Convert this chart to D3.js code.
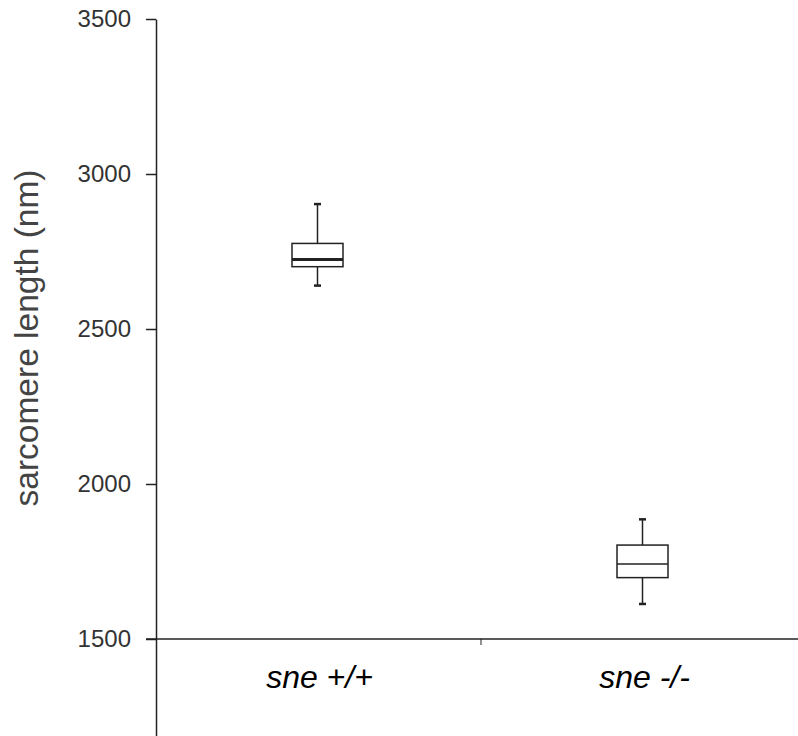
<!DOCTYPE html>
<html><head><meta charset="utf-8">
<script src="https://cdn.jsdelivr.net/npm/d3@7"></script>
<style>body{margin:0;background:#fff}svg{display:block}</style>
</head><body>
<svg id="c" width="798" height="736"></svg>
<script>
const categories = ["sne +/+", "sne -/-"];
const whiskerLow = [2640, 1613];
const q1 = [2701, 1698];
const median = [2724, 1742];
const q3 = [2776, 1803];
const whiskerHigh = [2903, 1886];
const yTicks = [1500, 2000, 2500, 3000, 3500];

const svg = d3.select("#c");
const y = d3.scaleLinear().domain([1000, 3500]).range([794, 19]);
const x = d3.scaleBand().domain(categories).range([156, 806]);
const ink = "#222";
const font = "Liberation Sans, Arial, sans-serif";

// y axis
const yAxis = d3.axisLeft(y).tickValues(yTicks).tickSize(10).tickSizeOuter(0).tickPadding(15).tickFormat(d3.format("d"));
const gy = svg.append("g").attr("transform", "translate(156,0)").call(yAxis);
gy.select(".domain").attr("stroke", ink).attr("stroke-width", 1.5);
gy.selectAll(".tick line").attr("stroke", ink).attr("stroke-width", 1.5);
gy.selectAll(".tick text").attr("font-family", font).attr("font-size", 24).attr("fill", "#333");

// x axis line at 1500
const y0 = y(1500);
svg.append("line").attr("x1", 146).attr("x2", 798).attr("y1", y0).attr("y2", y0).attr("stroke", ink).attr("stroke-width", 1.5);
// category divider tick
svg.append("line").attr("x1", x(categories[1])).attr("x2", x(categories[1])).attr("y1", y0).attr("y2", y0 + 6).attr("stroke", ink).attr("stroke-width", 1);

// category labels
svg.selectAll(".cat").data(categories).enter().append("text")
  .attr("x", d => x(d) + x.bandwidth() / 2 + 1).attr("y", 688)
  .attr("text-anchor", "middle").attr("font-family", font)
  .attr("font-size", 32).attr("font-style", "italic").attr("fill", "#000").text(d => d);

// y label
svg.append("text").attr("transform", "translate(38,338) rotate(-90)")
  .attr("text-anchor", "middle").attr("font-family", font)
  .attr("font-size", 33.5).attr("fill", "#444").text("sarcomere length (nm)");

// boxes
const bw = 51;
const medW = [3, 1.5];
categories.forEach((c, i) => {
  const cx = x(c) + x.bandwidth() / 2 - 1;
  const g = svg.append("g");
  g.append("line").attr("x1", cx).attr("x2", cx).attr("y1", y(whiskerHigh[i])).attr("y2", y(q3[i])).attr("stroke", ink).attr("stroke-width", 1.5);
  g.append("line").attr("x1", cx).attr("x2", cx).attr("y1", y(q1[i])).attr("y2", y(whiskerLow[i])).attr("stroke", ink).attr("stroke-width", 1.5);
  g.append("line").attr("x1", cx - 3.5).attr("x2", cx + 3.5).attr("y1", y(whiskerHigh[i])).attr("y2", y(whiskerHigh[i])).attr("stroke", ink).attr("stroke-width", 2.5);
  g.append("line").attr("x1", cx - 3.5).attr("x2", cx + 3.5).attr("y1", y(whiskerLow[i])).attr("y2", y(whiskerLow[i])).attr("stroke", ink).attr("stroke-width", 2.5);
  g.append("rect").attr("x", cx - bw / 2).attr("y", y(q3[i])).attr("width", bw).attr("height", y(q1[i]) - y(q3[i]))
    .attr("fill", "#fff").attr("stroke", ink).attr("stroke-width", 1.5);
  g.append("line").attr("x1", cx - bw / 2).attr("x2", cx + bw / 2).attr("y1", y(median[i])).attr("y2", y(median[i])).attr("stroke", ink).attr("stroke-width", medW[i]);
});
</script>
</body></html>
